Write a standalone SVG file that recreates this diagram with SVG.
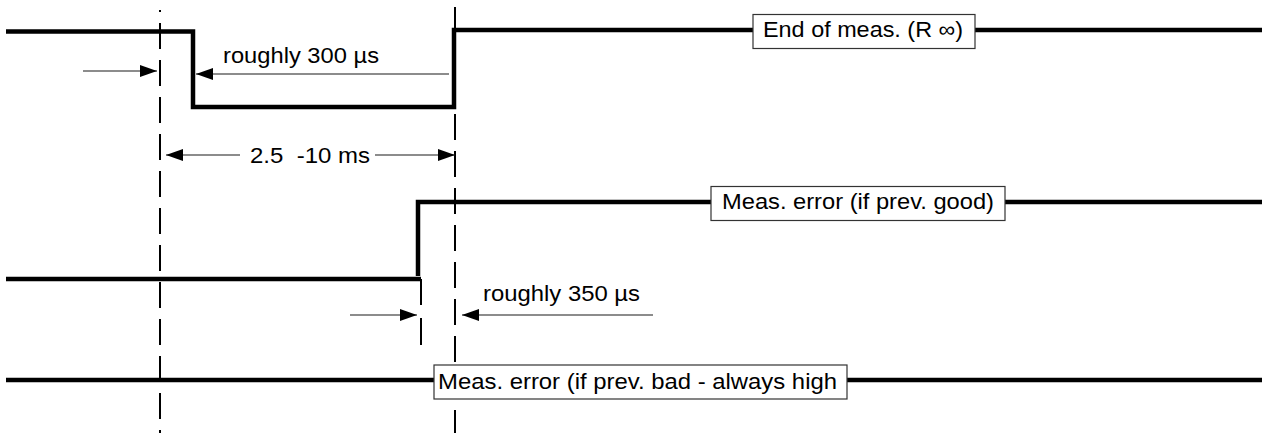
<svg xmlns="http://www.w3.org/2000/svg" width="1269" height="433" viewBox="0 0 1269 433">
<style>
.sig{fill:none;stroke:#000;stroke-width:4.5;stroke-linejoin:miter;stroke-linecap:butt}
.guide{fill:none;stroke:#000;stroke-width:2;stroke-dasharray:26 11}
.thin{fill:none;stroke:#1a1a1a;stroke-width:1.2}
.box{fill:#fff;stroke:#333;stroke-width:1.2}
.lbl{font-family:"Liberation Sans",Arial,Helvetica,sans-serif;font-size:22px;fill:#000}
</style>
<defs>
<marker id="ah" markerWidth="17" markerHeight="12" refX="17" refY="6" orient="auto" markerUnits="userSpaceOnUse">
<path d="M0,0 L17,6 L0,12 z" fill="#000"/>
</marker>
</defs>
<rect width="1269" height="433" fill="#fff"/>
<g id="guides">
<line class="guide" x1="160" y1="10" x2="160" y2="433" stroke-dashoffset="24"/>
<line class="guide" x1="455" y1="7" x2="455" y2="433" stroke-dashoffset="4"/>
<path class="guide" d="M421,279 V305 M421,318 V345" style="stroke-dasharray:none"/>
</g>
<g id="signals">
<path id="sig-end" class="sig" d="M6,31.5 H193 V107 H454 V30 H753 M975,30 H1262"/>
<path id="sig-good" class="sig" d="M6,279 H421 M418,276 V202 H711 M1005,202 H1262"/>
<path id="sig-bad" class="sig" d="M6,380 H434 M847,380 H1262"/>
</g>
<g id="connectors">
<line class="thin" x1="83" y1="71" x2="157" y2="71" marker-end="url(#ah)"/>
<line class="thin" x1="449" y1="74" x2="196" y2="74" marker-end="url(#ah)"/>
<line class="thin" x1="240" y1="155" x2="166" y2="155" marker-end="url(#ah)"/>
<line class="thin" x1="375" y1="155" x2="455" y2="155" marker-end="url(#ah)"/>
<line class="thin" x1="350" y1="315" x2="417" y2="315" marker-end="url(#ah)"/>
<line class="thin" x1="653" y1="315" x2="462" y2="315" marker-end="url(#ah)"/>
</g>
<g id="dim-labels">
<text class="lbl" x="223" y="63" textLength="156" lengthAdjust="spacingAndGlyphs">roughly 300 µs</text>
<text class="lbl" x="250" y="163" textLength="120" lengthAdjust="spacingAndGlyphs" xml:space="preserve">2.5  -10 ms</text>
<text class="lbl" x="483" y="301" textLength="157" lengthAdjust="spacingAndGlyphs">roughly 350 µs</text>
</g>
<g id="node-end">
<rect class="box" x="753" y="14.5" width="222" height="34"/>
<text class="lbl" x="763" y="37" textLength="200" lengthAdjust="spacingAndGlyphs">End of meas. (R ∞)</text>
</g>
<g id="node-good">
<rect class="box" x="711" y="186.5" width="294" height="34"/>
<text class="lbl" x="722" y="209" textLength="272" lengthAdjust="spacingAndGlyphs">Meas. error (if prev. good)</text>
</g>
<g id="node-bad">
<rect class="box" x="434" y="365" width="413" height="34"/>
<text class="lbl" x="438" y="389" textLength="399" lengthAdjust="spacingAndGlyphs">Meas. error (if prev. bad - always high</text>
</g>
</svg>
